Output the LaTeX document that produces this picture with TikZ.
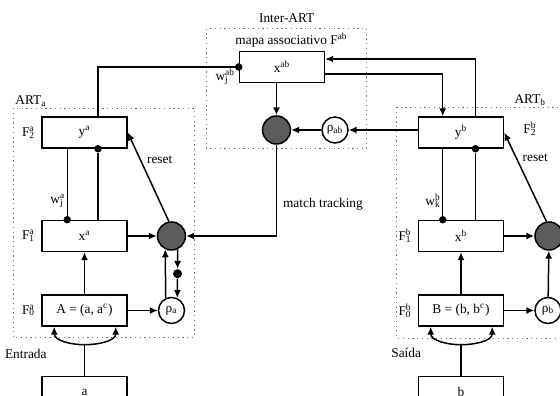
\documentclass[tikz,border=0pt]{standalone}
\usepackage{fontspec}
\setmainfont{Liberation Serif}
\usetikzlibrary{positioning, arrows.meta, calc}

\newcommand{\supsub}[3]{#1%
  \setbox0=\hbox{\textsuperscript{#2}}\setbox2=\hbox{\textsubscript{#3}}%
  \ifdim\wd0>\wd2 \rlap{\copy2}\copy0\else\rlap{\copy0}\copy2\fi}

\begin{document}
\begin{tikzpicture}[
    every node/.style={font=\fontsize{7.6}{9.2}\selectfont},
    layer/.style={
        rectangle, draw, line width=0.85pt, minimum width=1.7cm,
        minimum height=0.62cm, inner sep=2pt
    },
    gate/.style={
        circle, draw, line width=0.85pt, fill=black!64,
        minimum size=0.56cm, inner sep=0pt
    },
    vig/.style={
        circle, draw, line width=0.85pt, fill=white,
        minimum size=0.52cm, inner sep=0pt
    },
    junc/.style={circle, fill, inner sep=0pt, minimum size=0.15cm},
    module/.style={draw=black!55, dotted, line width=0.7pt},
    arr/.style={-{Latex[length=4.5pt, width=4pt]}, line width=0.85pt},
    wire/.style={line width=0.85pt},
]

\useasboundingbox (-1.69,2.65) rectangle (9.51,-5.27);
\clip (-1.69,2.65) rectangle (9.51,-5.27);

% ART_a
\node[layer] (ya) {y\textsuperscript{a}};
\node[layer, below=1.42cm of ya] (xa) {x\textsuperscript{a}};
\node[layer, below=0.84cm of xa] (Aa) {A = (a, a\textsuperscript{c})};
\node[layer, below=0.98cm of Aa] (ina) {a};
\node[gate, right=0.58cm of xa] (ga) {};
\node[vig, right=0.6cm of Aa] (ra) {ρ\textsubscript{a}};

\node[left=0pt of ya] (F2a) {\supsub{F}{a}{2}};
\node[left=0pt of xa] (F1a) {\supsub{F}{a}{1}};
\node[left=0pt of Aa] (F0a) {\supsub{F}{a}{0}};

% ART_b
\node[layer, right=5.8cm of ya] (yb) {y\textsuperscript{b}};
\node[layer, below=1.42cm of yb] (xb) {x\textsuperscript{b}};
\node[layer, below=0.84cm of xb] (Bb) {B = (b, b\textsuperscript{c})};
\node[layer, below=0.98cm of Bb] (inb) {b};
\node[gate, right=0.6cm of xb] (gb) {};
\node[vig, right=0.6cm of Bb] (rb) {ρ\textsubscript{b}};

\node[right=0.26cm of yb, yshift=0.08cm] (F2b) {\supsub{F}{b}{2}};
\node[left=0pt of xb] (F1b) {\supsub{F}{b}{1}};
\node[left=0pt of Bb] (F0b) {\supsub{F}{b}{0}};

% Inter-ART
\node[layer, above right=0.66cm and 2.22cm of ya] (xab) {x\textsuperscript{ab}};
\node[gate, below=0.64cm of xab, xshift=-0.11cm] (gab) {};
\node[vig, right=0.6cm of gab] (rab) {ρ\textsubscript{ab}};
\node[anchor=south, inner sep=2pt, xshift=0.19cm] (mapa) at (xab.north)
    {mapa associativo F\textsuperscript{ab}};
\node[anchor=east, inner sep=2pt] (wjab) at ($(xab.west)+(0,-0.2cm)$)
    {\supsub{w}{ab}{j}};

% dotted frames
\draw[module] ($(ya.north west)+(-0.56cm,0.16cm)$) coordinate (artaNW)
    rectangle ($(Aa.south -| ga.east)+(0.16cm,-0.22cm)$);
\draw[module] ($(yb.north west)+(-0.42cm,0.18cm)$) coordinate (artbNW)
    rectangle ($(Bb.south -| gb.east)+(0.3cm,-0.23cm)$);
\draw[module] ($(xab.north west)+(-0.64cm,0.44cm)$) coordinate (iaNW)
    rectangle ($(rab.south east)+(0.44cm,-0.18cm)$) coordinate (iaSE);

\node[anchor=south west, inner sep=1pt] (lblarta) at (artaNW) {ART\textsubscript{a}};
\node[anchor=south, inner sep=1pt] (lblartb) at ($(artbNW -| yb.east)+(0.52cm,0)$)
    {ART\textsubscript{b}};
\node[anchor=south, inner sep=3pt] (lblia) at ($(iaNW)!0.5!(iaNW -| iaSE)$) {Inter-ART};

% weights between F1 and F2
\coordinate (lwa) at ($(ya.south west)+(0.52cm,0)$);
\coordinate (rwa) at ($(ya.south)+(0.27cm,0)$);
\coordinate (lwb) at ($(yb.south west)+(0.5cm,0)$);
\coordinate (rwb) at ($(yb.south)+(0.29cm,0)$);

\draw[wire] (lwa) -- (lwa |- xa.north) node[junc] (ja1) {};
\node[junc] (ja2) at (rwa) {};
\draw[wire] (ja2) -- (ja2 |- xa.north);
\node[anchor=east, inner sep=1pt] (wja) at ($(lwa |- xa.north)+(0,0.38cm)$) {\supsub{w}{a}{j}};

\draw[wire] (lwb) -- (lwb |- xb.north) node[junc] (jb1) {};
\node[junc] (jb2) at (rwb) {};
\draw[wire] (jb2) -- (jb2 |- xb.north);
\node[anchor=east, inner sep=1pt] (wkb) at ($(lwb |- xb.north)+(0,0.38cm)$) {\supsub{w}{b}{k}};

% ── Arrows ──
\draw[wire] (rwa |- ya.north) |- (xab.west) node[junc] (jab) {};
\coordinate (xabhi) at ($(xab.east)+(0,0.16cm)$);
\coordinate (xablo) at ($(xab.east)+(0,-0.14cm)$);
\draw[arr] (rwb |- yb.north) |- (xabhi);
\draw[arr] (xablo) -| (lwb |- yb.north);

\draw[arr] (xab.south -| gab) -- (gab.north);
\draw[arr] (rab) -- (gab);
\draw[arr] (rab.east -| yb.west) -- (rab);
\draw[arr] (gab.south) -- node[right, pos=0.65] (mt) {match tracking}
    (gab.south |- ga.east) -- (ga.east);

\draw[arr] (xa) -- (ga);
\draw[arr] (ga.100) -- node[right, pos=0.69] (rsa) {reset} (ya.east);
\draw[arr] (Aa) -- (xa);
\draw[arr] (Aa) -- (ra);
\draw[arr] (ra.115) -- (ga.245);
\node[junc, minimum size=0.18cm] (jma) at ($(ga.295)!0.5!(ra.65)$) {};
\draw[arr] (ga.295) -- (jma.north);
\draw[arr] (jma) -- (ra.65);

\draw[arr] (xb) -- (gb);
\draw[arr] (gb.100) -- node[right, pos=0.72] (rsb) {reset} (yb.east);
\draw[arr] (Bb) -- (xb);
\draw[arr] (Bb) -- (rb);
\draw[arr] (rb) -- (gb);

% inputs
\coordinate (spa) at ($(Aa.south)+(0,-0.36cm)$);
\draw[wire] (ina.north) -- (spa);
\draw[arr] (spa) to[out=180, in=-90] ($(Aa.south west)+(0.26cm,0)$);
\draw[arr] (spa) to[out=0, in=-90] ($(Aa.south east)+(-0.24cm,0)$);
\node[anchor=east] (ent) at ($(Aa.south west)+(0.23cm,-0.54cm)$) {Entrada};

\coordinate (spb) at ($(Bb.south)+(0,-0.36cm)$);
\draw[wire] (inb.north) -- (spb);
\draw[arr] (spb) to[out=180, in=-90] ($(Bb.south west)+(0.26cm,0)$);
\draw[arr] (spb) to[out=0, in=-90] ($(Bb.south east)+(-0.24cm,0)$);
\node[anchor=east] (sai) at ($(Bb.south west)+(0.19cm,-0.53cm)$) {Saída};

\end{tikzpicture}
\end{document}
